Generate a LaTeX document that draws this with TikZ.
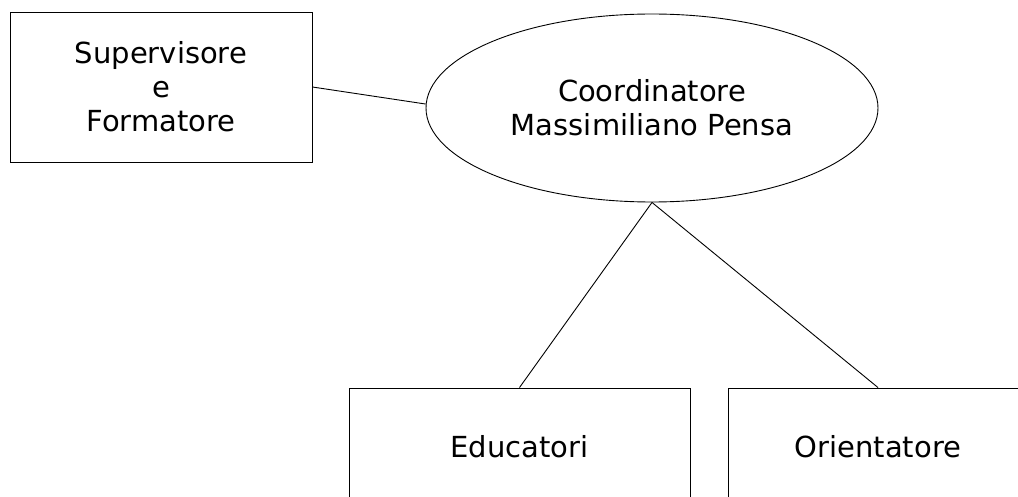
\documentclass[tikz,border=0pt]{standalone}
\usepackage{fontspec}
\setmainfont{DejaVu Sans}
\usetikzlibrary{shapes.geometric}
\begin{document}
\begin{tikzpicture}[x=1pt,y=-1pt,line width=0.9pt,
  box/.style={draw,rectangle,inner sep=0pt,align=center,font=\fontsize{29}{34}\selectfont},
  oval/.style={draw,ellipse,inner sep=0pt,align=center,font=\fontsize{29}{34}\selectfont}]
\clip (0,0) rectangle (1018,497);

\node[box,minimum width=302pt,minimum height=150pt] (sup) at (161,87) {Supervisore\\e\\Formatore};
\node[oval,minimum width=452pt,minimum height=188pt] (coord) at (652,108) {Coordinatore\\Massimiliano Pensa};

\node[box,minimum width=341pt,minimum height=118pt] (edu) at (519.5,447) {Educatori};
\node[box,minimum width=300pt,minimum height=118pt] (ori) at (878,447) {Orientatore};

\draw (sup.east) -- (coord.179);
\draw (coord.south) -- (edu.north);
\draw (coord.south) -- (ori.north);
\end{tikzpicture}
\end{document}
